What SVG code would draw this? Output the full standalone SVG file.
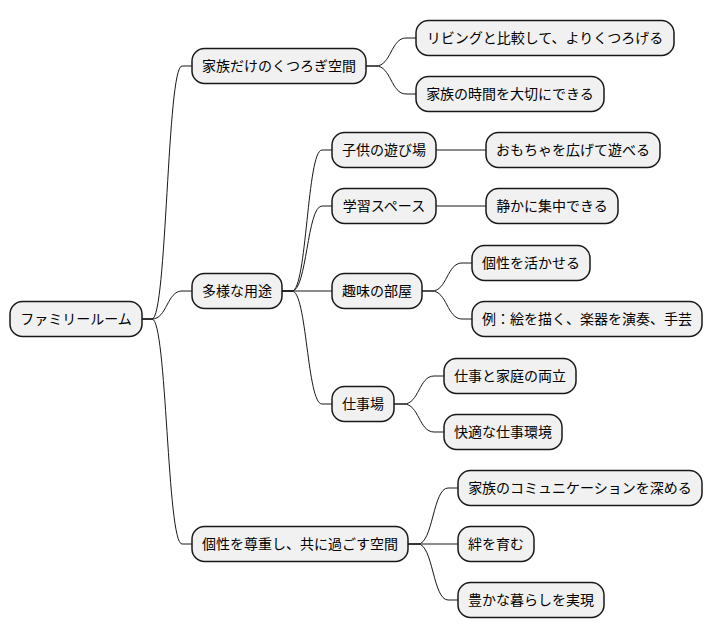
<svg xmlns="http://www.w3.org/2000/svg" width="712" height="640" viewBox="0 0 712 640">
<style>
.box{fill:#F1F1F1;stroke:#181818;stroke-width:1.5}
.lbl{font-family:"Noto Sans CJK JP","Noto Sans",sans-serif;font-size:14px;fill:#000;text-anchor:middle}
.con{fill:none;stroke:#181818;stroke-width:1}
</style>
<rect width="712" height="640" fill="#FFFFFF"/>
<g id="connectors">
<path class="con" d="M142,319 H152 C167,319 167,66 182,66 H192"/>
<path class="con" d="M142,319 H152 C167,319 167,291 182,291 H192"/>
<path class="con" d="M142,319 H152 C167,319 167,544 182,544 H192"/>
<path class="con" d="M366,66 H376 C391,66 391,38 406,38 H416"/>
<path class="con" d="M366,66 H376 C391,66 391,94 406,94 H416"/>
<path class="con" d="M282,291 H292 C307,291 307,150 322,150 H332"/>
<path class="con" d="M282,291 H292 C307,291 307,206 322,206 H332"/>
<path class="con" d="M282,291 H332"/>
<path class="con" d="M282,291 H292 C307,291 307,404 322,404 H332"/>
<path class="con" d="M436,150 H486"/>
<path class="con" d="M436,206 H486"/>
<path class="con" d="M422,291 H432 C447,291 447,263 462,263 H472"/>
<path class="con" d="M422,291 H432 C447,291 447,319 462,319 H472"/>
<path class="con" d="M394,404 H404 C419,404 419,376 434,376 H444"/>
<path class="con" d="M394,404 H404 C419,404 419,432 434,432 H444"/>
<path class="con" d="M408,544 H418 C433,544 433,488 448,488 H458"/>
<path class="con" d="M408,544 H458"/>
<path class="con" d="M408,544 H418 C433,544 433,600 448,600 H458"/>
</g>
<g id="root"><rect class="box" x="10" y="301.5" width="132" height="35" rx="12.5"/><text class="lbl" x="76" y="324">ファミリールーム</text></g>
<g id="n1"><rect class="box" x="192" y="48.5" width="174" height="35" rx="12.5"/><text class="lbl" x="279" y="71">家族だけのくつろぎ空間</text></g>
<g id="n1a"><rect class="box" x="416" y="20.5" width="258" height="35" rx="12.5"/><text class="lbl" x="545" y="43">リビングと比較して、よりくつろげる</text></g>
<g id="n1b"><rect class="box" x="416" y="76.5" width="188" height="35" rx="12.5"/><text class="lbl" x="510" y="99">家族の時間を大切にできる</text></g>
<g id="n2"><rect class="box" x="192" y="273.5" width="90" height="35" rx="12.5"/><text class="lbl" x="237" y="296">多様な用途</text></g>
<g id="n2a"><rect class="box" x="332" y="132.5" width="104" height="35" rx="12.5"/><text class="lbl" x="384" y="155">子供の遊び場</text></g>
<g id="n2a1"><rect class="box" x="486" y="132.5" width="174" height="35" rx="12.5"/><text class="lbl" x="573" y="155">おもちゃを広げて遊べる</text></g>
<g id="n2b"><rect class="box" x="332" y="188.5" width="104" height="35" rx="12.5"/><text class="lbl" x="384" y="211">学習スペース</text></g>
<g id="n2b1"><rect class="box" x="486" y="188.5" width="132" height="35" rx="12.5"/><text class="lbl" x="552" y="211">静かに集中できる</text></g>
<g id="n2c"><rect class="box" x="332" y="273.5" width="90" height="35" rx="12.5"/><text class="lbl" x="377" y="296">趣味の部屋</text></g>
<g id="n2c1"><rect class="box" x="472" y="245.5" width="118" height="35" rx="12.5"/><text class="lbl" x="531" y="268">個性を活かせる</text></g>
<g id="n2c2"><rect class="box" x="472" y="301.5" width="230" height="35" rx="12.5"/><text class="lbl" x="587" y="324">例：絵を描く、楽器を演奏、手芸</text></g>
<g id="n2d"><rect class="box" x="332" y="386.5" width="62" height="35" rx="12.5"/><text class="lbl" x="363" y="409">仕事場</text></g>
<g id="n2d1"><rect class="box" x="444" y="358.5" width="132" height="35" rx="12.5"/><text class="lbl" x="510" y="381">仕事と家庭の両立</text></g>
<g id="n2d2"><rect class="box" x="444" y="414.5" width="118" height="35" rx="12.5"/><text class="lbl" x="503" y="437">快適な仕事環境</text></g>
<g id="n3"><rect class="box" x="192" y="526.5" width="216" height="35" rx="12.5"/><text class="lbl" x="300" y="549">個性を尊重し、共に過ごす空間</text></g>
<g id="n3a"><rect class="box" x="458" y="470.5" width="244" height="35" rx="12.5"/><text class="lbl" x="580" y="493">家族のコミュニケーションを深める</text></g>
<g id="n3b"><rect class="box" x="458" y="526.5" width="76" height="35" rx="12.5"/><text class="lbl" x="496" y="549">絆を育む</text></g>
<g id="n3c"><rect class="box" x="458" y="582.5" width="146" height="35" rx="12.5"/><text class="lbl" x="531" y="605">豊かな暮らしを実現</text></g>
</svg>
